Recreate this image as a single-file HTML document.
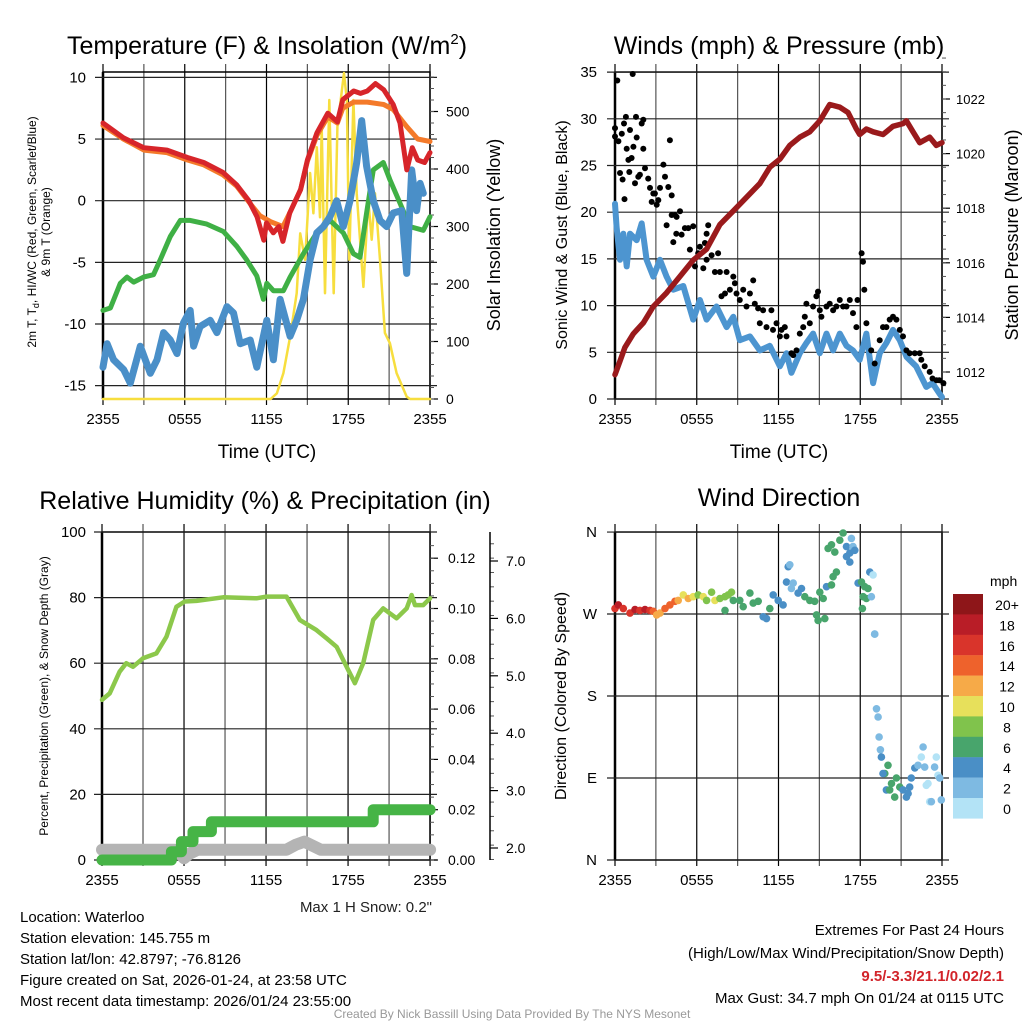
<!DOCTYPE html>
<html><head><meta charset="utf-8">
<style>
html,body{margin:0;padding:0;background:#fff;}
svg{display:block;font-family:"Liberation Sans",Arial,sans-serif;}
</style></head>
<body>
<svg id="chart" width="1024" height="1024" viewBox="0 0 1024 1024" xmlns="http://www.w3.org/2000/svg">
<rect x="0" y="0" width="1024" height="1024" fill="#fff"/>
<text x="267" y="54" font-size="25" text-anchor="middle">Temperature (F) &amp; Insolation (W/m<tspan dy="-10" font-size="15">2</tspan><tspan dy="10">)</tspan></text>
<text x="779" y="54" font-size="25" text-anchor="middle">Winds (mph) &amp; Pressure (mb)</text>
<text x="265" y="509" font-size="25" text-anchor="middle">Relative Humidity (%) &amp; Precipitation (in)</text>
<text x="779" y="506" font-size="25" text-anchor="middle">Wind Direction</text>

<text x="267" y="458" font-size="19" text-anchor="middle">Time (UTC)</text>
<text x="779" y="458" font-size="19" text-anchor="middle">Time (UTC)</text>

<text transform="translate(36,232) rotate(-90)" font-size="12" text-anchor="middle">2m T, T<tspan dy="3" font-size="9">d</tspan><tspan dy="-3">, HI/WC (Red, Green, Scarlet/Blue)</tspan></text>
<text transform="translate(50,232) rotate(-90)" font-size="12" text-anchor="middle">&amp; 9m T (Orange)</text>
<text transform="translate(500,235) rotate(-90)" font-size="18" text-anchor="middle">Solar Insolation (Yellow)</text>
<text transform="translate(567,235) rotate(-90)" font-size="16" text-anchor="middle">Sonic Wind &amp; Gust (Blue, Black)</text>
<text transform="translate(1018,235) rotate(-90)" font-size="18" text-anchor="middle">Station Pressure (Maroon)</text>
<text transform="translate(48,696) rotate(-90)" font-size="12" text-anchor="middle">Percent, Precipitation (Green), &amp; Snow Depth (Gray)</text>
<text transform="translate(566,696) rotate(-90)" font-size="16" text-anchor="middle">Direction (Colored By Speed)</text>

<text x="432" y="912" font-size="15" text-anchor="end" fill="#222">Max 1 H Snow: 0.2"</text>
<g font-size="15" fill="#000">
<text x="20" y="922">Location: Waterloo</text>
<text x="20" y="943">Station elevation: 145.755 m</text>
<text x="20" y="964">Station lat/lon: 42.8797; -76.8126</text>
<text x="20" y="985">Figure created on Sat, 2026-01-24, at 23:58 UTC</text>
<text x="20" y="1006">Most recent data timestamp: 2026/01/24 23:55:00</text>
</g>
<g font-size="15" text-anchor="end">
<text x="1004" y="935">Extremes For Past 24 Hours</text>
<text x="1004" y="958">(High/Low/Max Wind/Precipitation/Snow Depth)</text>
<text x="1004" y="981" font-weight="bold" fill="#d2242a">9.5/-3.3/21.1/0.02/2.1</text>
<text x="1004" y="1003">Max Gust: 34.7 mph On 01/24 at 0115 UTC</text>
</g>
<text x="512" y="1018" font-size="12" fill="#999" text-anchor="middle">Created By Nick Bassill Using Data Provided By The NYS Mesonet</text>
</svg>
<script>
// ===== Panel 1 data (temperature F, insolation W/m2) =====
const xTickLabels = ["2355","0555","1155","1755","2355"];
const tempTicks = [10,5,0,-5,-10,-15];
const solarTicks = [0,100,200,300,400,500];
const redHours = [0,1.5,3.0,4.7,6.2,7.4,8.8,9.8,10.7,11.3,11.8,12.0,12.5,12.9,13.2,13.7,14.5,15.0,15.7,16.5,17.2,17.6,18.4,18.9,19.4,20.0,20.6,21.3,21.8,22.3,22.7,23.1,23.6,24];
const redTemp = [6.3,5.1,4.3,4.1,3.5,3.1,2.3,1.3,0,-1.3,-3.2,-1.8,-2.6,-2.1,-3.3,-1.0,0.9,3.3,5.5,7.1,6.4,8.2,8.9,8.7,8.9,9.5,9.0,7.8,6.3,2.5,4.3,3.3,3.1,3.9];
const orangeHours = [0,1.5,3.0,4.7,6.2,7.4,8.8,9.8,10.7,11.5,12.3,13.2,13.7,14.5,15.0,15.7,16.5,17.2,17.6,18.4,19.4,20.6,21.3,22.3,23.1,24];
const orangeTemp = [6.1,5.0,4.1,3.9,3.3,2.9,2.1,1.2,-0.1,-1.2,-1.7,-2.1,-1.0,0.9,3.2,5.3,6.8,6.3,7.5,8.0,8.0,7.8,7.4,6.0,5.0,4.8];
const greenHours = [0,0.54,1.27,1.76,2.25,2.98,3.71,4.2,4.94,5.67,6.4,7.62,8.84,9.82,10.55,11.29,11.77,12.02,12.51,13.24,13.73,14.71,15.69,16.66,17.64,18.38,18.86,19.35,19.84,20.57,21.06,21.8,22.53,23.51,24];
const greenTemp = [-8.9,-8.7,-6.7,-6.2,-6.6,-6.2,-6.0,-4.8,-2.9,-1.6,-1.6,-1.9,-2.5,-3.7,-4.8,-6.1,-8.0,-6.7,-7.3,-7.3,-6.2,-4.3,-2.6,-1.6,-2.6,-4.3,-4.6,-1.0,2.5,3.1,1.7,-0.2,-2.1,-2.4,-1.3];
const blueHours = [0,0.3,0.78,1.52,2.0,2.74,3.47,3.96,4.45,4.94,5.43,5.91,6.4,6.65,7.13,7.87,8.36,9.09,9.58,10.07,10.8,11.29,12.02,12.51,13.0,13.73,14.22,14.71,15.2,15.69,16.18,16.66,17.15,17.64,18.13,18.62,18.99,19.35,19.84,20.33,20.82,21.31,21.92,22.29,22.66,23.02,23.27,23.51];
const blueTemp = [-13.5,-11.6,-12.9,-13.7,-14.8,-11.8,-14.0,-12.9,-10.7,-11.3,-12.4,-9.9,-8.9,-11.8,-10.2,-9.7,-10.7,-8.6,-9.1,-11.6,-11.3,-13.5,-9.7,-12.9,-8.0,-11.0,-9.7,-8.0,-4.8,-2.6,-2.1,-1.3,0,-2.1,0,3.1,6.5,2.8,0,-1.6,-2.1,-1.0,-0.8,-5.9,2.5,-0.8,1.4,0.6];
const solarHours = [0,12.3,12.76,13.24,13.73,14.22,14.47,14.83,15.2,15.44,15.69,15.93,16.05,16.29,16.61,16.93,17.2,17.69,17.89,18.08,18.38,18.62,19.11,19.47,19.72,19.96,20.33,20.69,21.06,21.55,22.29,22.53,24];
const solarWm2 = [0,0,10,45,108,184,288,242,393,323,438,316,473,184,520,184,473,567,520,242,520,358,195,346,277,358,242,115,97,45,4,0,0];

// ===== Panel 2 data (wind mph, pressure mb) =====
const windTicks = [0,5,10,15,20,25,30,35];
const pressureTicks = [1012,1014,1016,1018,1020,1022];
const windHours = [0,0.12,0.37,0.61,0.86,1.1,1.59,1.96,2.32,2.81,3.3,3.79,4.28,5.01,5.74,6.23,6.72,7.45,8.19,8.68,9.16,9.9,10.63,11.36,12.1,12.59,12.95,13.56,14.05,14.54,15.03,15.52,16.01,16.5,16.99,17.47,17.96,18.45,18.94,19.43,19.92,20.4,20.9,21.4,22.1,22.85,23.3,23.8,24];
const windMph = [20.9,18.4,14.9,17.7,14.2,17.7,17.0,18.8,14.9,13.1,14.9,13.1,11.7,12.1,8.5,10.6,8.5,9.9,7.7,8.8,6.3,6.7,5.2,5.7,3.5,4.9,2.8,4.9,6.0,7.0,4.9,7.0,5.2,7.0,5.7,5.2,4.2,7.0,1.7,4.9,6.0,7.4,6.3,4.5,3.5,1.3,1.7,0.6,0.2];
const gustHours = [0,0.17,1.3,0,0.25,0.5,0.66,0.8,1.1,0.86,0.98,1.22,1.35,1.59,1.54,1.96,2.08,2.08,0.37,0.56,1.05,0.7,1.47,1.71,1.83,2.2,2.44,2.57,2.69,2.81,2.93,3.06,3.18,3.3,3.55,3.67,3.91,4.03,4.16,3.79,4.16,4.4,4.52,4.77,4.5,4.89,4.28,5.13,5.38,5.5,5.74,5.87,6.11,6.23,6.6,6.72,6.84,6.48,6.72,7.09,7.33,7.57,7.7,7.82,8.19,8.07,8.43,8.68,8.8,8.92,9.16,9.41,9.65,9.9,10.14,10.26,10.5,10.63,10.87,11.12,11.48,11.6,11.85,12.1,12.22,12.46,12.59,12.95,13.08,13.32,13.56,13.81,13.93,14.05,14.3,14.54,14.78,14.9,15.03,15.15,15.52,15.76,16.01,16.25,16.5,16.74,16.99,17.23,17.47,17.72,17.8,18.2,18.1,18.3,18.45,18.8,19.06,19.43,19.67,19.92,20.16,20.4,20.65,20.9,21.14,21.39,21.63,22.0,22.36,22.48,22.73,23.1,23.3,23.6,23.8,24.1];
const gustMph = [29.0,34.1,34.8,28.1,27.6,28.4,29.5,30.2,28.8,26.8,25.6,25.8,27.0,28.0,30.2,29.5,29.9,26.8,24.2,23.5,24.3,21.4,23.1,23.8,24.0,24.7,23.6,22.6,21.1,22.0,22.0,20.8,21.3,22.6,25.1,23.8,22.7,27.7,21.8,18.6,19.7,19.7,19.5,20.1,17.7,17.6,16.8,18.3,18.3,16.0,18.5,14.2,15.6,16.3,16.7,17.7,18.6,14.0,14.9,15.4,13.6,15.6,13.6,11.0,13.6,11.3,11.7,13.1,12.4,11.3,10.6,11.7,9.9,11.3,12.7,10.2,9.7,8.1,9.5,7.7,9.5,7.4,8.1,6.7,7.4,7.7,6.7,4.9,4.7,5.2,7.0,7.7,8.8,10.2,8.1,9.9,11.0,11.5,9.5,8.8,9.9,10.2,9.5,9.9,10.6,9.9,9.9,10.6,9.2,7.7,10.6,14.7,15.6,11.7,8.1,5.2,3.8,6.3,7.7,7.7,8.5,8.8,8.5,7.4,6.7,5.2,4.9,4.9,4.9,4.2,3.5,2.9,2.2,2.0,2.0,1.7];
const pressureHours = [0,0.37,0.73,1.34,2.08,2.81,3.79,4.77,5.74,6.72,7.7,8.68,9.65,10.63,11.36,12.1,12.83,13.56,14.3,15.03,15.76,16.5,17.11,17.72,17.96,18.45,18.94,19.67,20.4,21.14,21.39,21.87,22.36,23.1,23.58,24];
const pressureMb = [1011.9,1012.4,1012.9,1013.4,1013.8,1014.4,1014.9,1015.5,1016.1,1016.5,1017.4,1017.9,1018.4,1018.9,1019.5,1019.8,1020.3,1020.6,1020.8,1021.2,1021.8,1021.7,1021.5,1020.9,1020.7,1020.9,1020.8,1020.7,1021.0,1021.1,1021.2,1020.8,1020.4,1020.6,1020.3,1020.4];

// ===== Panel 3 data (RH %, precip in, snow depth in) =====
const rhTicks = [0,20,40,60,80,100];
const precipTicks = [0.00,0.02,0.04,0.06,0.08,0.10,0.12];
const snowTicks = [2.0,3.0,4.0,5.0,6.0,7.0];
const rhHours = [0,0.56,1.29,1.78,2.27,3.0,3.98,4.72,5.44,6.05,6.91,8.86,11.3,12.03,13.5,14.47,15.69,16.42,17.16,17.89,18.5,19.11,19.84,20.57,21.55,22.29,22.65,22.9,23.5,24];
const rhPct = [48.8,50.8,57.4,60,58.9,61.5,63.0,68.1,77.2,78.8,79.0,80.1,79.8,80.3,80.3,73.2,70.1,67.6,65,58.9,53.9,60,73.2,76.7,73.7,76.7,80.8,77.7,77.7,79.8];
const precipHours = [0,5.08,5.08,5.81,5.81,6.66,6.66,8.0,8.0,19.84,19.84,24];
const precipIn = [0,0,0.0033,0.0033,0.0073,0.0073,0.0113,0.0113,0.0152,0.0152,0.020,0.020];
const snowHours = [0,5.3,5.7,6.0,6.4,7.0,13.5,14.2,14.8,15.4,16.0,24];
const snowIn = [1.97,1.97,1.9,1.82,1.9,1.97,1.97,2.06,2.11,2.04,1.97,1.97];

// ===== Panel 4 data (wind direction deg, speed mph) =====
const dirLabels = ["N","E","S","W","N"];
const dirTicks = [0,90,180,270,360];
const speedBins = ["0","2","4","6","8","10","12","14","16","18","20+"];
const dirHours = [0,0.24,0.61,1.1,1.47,1.83,2.2,2.57,2.81,3.06,3.3,3.67,4.03,4.4,4.64,5.01,5.38,5.74,6.11,6.48,6.72,7.09,7.33,7.7,8.07,8.31,8.55,8.68,8.07,9.16,9.41,9.9,10.14,10.51,10.88,11.12,11.36,11.61,11.98,12.34,12.71,12.83,12.59,12.95,13.08,13.44,13.69,13.93,14.3,14.66,15.03,15.28,14.79,14.91,15.4,15.52,15.89,16.01,16.25,15.64,15.89,16.13,16.5,16.74,16.99,17.23,17.47,17.6,17.35,16.99,17.23,17.84,18.09,18.33,18.57,18.21,18.45,18.16,18.7,18.94,18.82,19.06,19.06,19.19,19.31,19.38,19.48,19.55,19.8,20.04,19.67,19.92,20.16,20.29,20.53,20.65,20.9,21.14,21.39,21.51,21.63,21.75,22.0,22.24,22.48,22.61,22.73,22.85,22.97,23.1,23.22,23.46,23.58,23.71,23.83,23.95,23.83];
const dirDeg = [276,280,276,271,275,274,275,274,273,269,271,276,280,284,285,291,287,289,291,289,285,294,285,287,289,291,294,285,274,285,278,293,282,284,267,265,276,291,285,280,322,324,305,298,304,293,298,289,285,284,294,287,269,263,265,300,302,311,316,342,346,338,351,359,344,337,344,340,353,333,327,304,305,300,298,289,287,276,316,313,289,248,248,166,157,135,121,113,95,104,95,77,77,84,69,90,80,77,69,73,80,90,101,104,113,124,102,82,84,64,64,102,113,93,90,66,90,56];
const dirSpeed = [17,18,17,17,18,17,18,17,15,13,13,15,14,14,13,11,12,10,9,10,9,8,10,9,8,8,8,7,7,6,6,6,6,6,4,4,6,4,5,4,4,3,4,3,3,4,4,6,6,6,6,6,6,6,6,5,6,6,6,6,6,6,6,6,5,4,3,4,2,4,4,4,6,6,6,6,6,6,4,1,2,2,2,2,2,2,2,4,6,6,4,4,6,6,6,6,6,4,4,4,4,4,4,2,1,2,2,1,1,1,2,2,1,1,1,2,2];
const speedColors = ["#b3e3f6","#7ebae2","#4a8fc6","#48a56c","#80c34c","#e7e05b","#f6aa48","#ee622c","#d9342b","#b91d27","#8e1619"];

const NS = "http://www.w3.org/2000/svg";
const svg = document.getElementById("chart");
function mk(tag, attrs, parent){
  const e = document.createElementNS(NS, tag);
  for (const k in attrs) e.setAttribute(k, attrs[k]);
  (parent || svg).appendChild(e);
  return e;
}
function pathD(xs, ys, fx, fy){
  let d = "";
  for (let i = 0; i < xs.length; i++) d += (i ? "L" : "M") + fx(xs[i]).toFixed(1) + " " + fy(ys[i]).toFixed(1);
  return d;
}

const x1 = h => 103 + h * 13.625;
const yT = v => 200.7 - v * 12.33;
const yS = w => 399 - w * 0.575;
const x2 = h => 615 + h * 13.625;
const yW = v => 399 - v * 9.34;
const yP = p => 372 - (p - 1012) * 27.3;
const x3 = h => 102 + h * 13.67;
const yR = r => 860 - r * 3.28;
const yPr = i => 860 - i * 2515;
const ySn = s => 848 - (s - 2) * 57.4;
const yD = d => 860 - d * 0.911;

function frame(name, L, R, T, B, xf){
  const g = mk("g", {});
  
  
  for (let h = 0; h <= 24; h += 3){
    const ln = mk("line", {x1: xf(h), x2: xf(h), y1: T - 8, y2: B + 6, stroke: (h % 6 === 0) ? "#000" : "#555", "stroke-width": 1.2}, g);
    
    
  }
  for (let i = 0; i < 5; i++){
    const t = mk("text", {x: xf(i * 6), y: B + 25, "font-size": 15, "text-anchor": "middle"}, g);
    t.textContent = xTickLabels[i];
    
    
  }
  const bx = mk("rect", {x: L, y: T, width: R - L, height: B - T, fill: "none", stroke: "#000", "stroke-width": 1.5}, g);
  
  
  const lax = mk("line", {x1: L, x2: L, y1: T, y2: B, stroke: "#000", "stroke-width": 2.5}, g);
  
  
  return g;
}
function hgrid(g, vals, fy, L, R, labelX, fmt, name){
  vals.forEach(v => {
    const y = fy(v);
    const ln = mk("line", {x1: L - 8, x2: R + 7, y1: y, y2: y, stroke: "#222", "stroke-width": 1.2}, g);
    
    
    const t = mk("text", {x: labelX, y: y + 5, "font-size": 15, "text-anchor": "end"}, g);
    t.textContent = fmt(v);
    
    
  });
}
function rightAxis(g, vals, minors, fy, X, fmt, name, lx, size){
  vals.forEach(v => {
    const y = fy(v);
    const tk = mk("line", {x1: X, x2: X + 8, y1: y, y2: y, stroke: "#000", "stroke-width": 1.2}, g);
    
    
    const t = mk("text", {x: lx, y: y + 5, "font-size": size || 14}, g);
    t.textContent = fmt(v);
    
    
  });
  minors.forEach(v => {
    const y = fy(v);
    const tk = mk("line", {x1: X, x2: X + 4, y1: y, y2: y, stroke: "#555", "stroke-width": 1}, g);
    
    
  });
}
function line(xs, ys, fx, fy, color, w, name, cap){
  const p = mk("path", {d: pathD(xs, ys, fx, fy), fill: "none", stroke: color, "stroke-width": w, "stroke-linejoin": "round", "stroke-linecap": cap || "round"});
  
  
  return p;
}

// ---- Panel 1 ----
const g1 = frame("temperature-panel", 103, 430, 72, 399, x1);
hgrid(g1, tempTicks, yT, 103, 430, 86, v => String(v), "temperature");
const m1 = [];
for (let w = 0; w <= 560; w += 20) m1.push(w);
rightAxis(g1, solarTicks, m1, yS, 430, v => String(v), "insolation", 446);
line(solarHours, solarWm2, x1, yS, "#f7de3e", 2.5, "insolation-line");
line(greenHours, greenTemp, x1, yT, "#3fb045", 5, "dewpoint-line");
line(blueHours, blueTemp, x1, yT, "#4a8fc8", 7, "windchill-line");
line(orangeHours, orangeTemp, x1, yT, "#f47a2a", 5, "temp-9m-line");
line(redHours, redTemp, x1, yT, "#d7252a", 5, "temp-2m-line");

// ---- Panel 2 ----
const g2 = frame("winds-panel", 615, 942, 72, 399, x2);
hgrid(g2, windTicks, yW, 615, 942, 597, v => String(v), "wind");
const m2 = [];
for (let p = 1011.5; p <= 1023.5; p += 0.5) m2.push(p);
rightAxis(g2, pressureTicks, m2, yP, 942, v => String(v), "pressure", 956, 13);
line(windHours, windMph, x2, yW, "#4d95d0", 6, "sonic-wind-line");
gustHours.forEach((h, i) => {
  const c = mk("circle", {cx: x2(h).toFixed(1), cy: yW(gustMph[i]).toFixed(1), r: 3, fill: "#000"});
  
  
});
line(pressureHours, pressureMb, x2, yP, "#9a1a1c", 5.5, "pressure-line");

// ---- Panel 3 ----
const g3 = frame("humidity-panel", 102, 430, 532, 860, x3);
hgrid(g3, rhTicks, yR, 102, 430, 86, v => String(v), "humidity");
const m3 = [];
for (let i = 0; i <= 0.13; i += 0.005) m3.push(i);
rightAxis(g3, precipTicks, m3, yPr, 430, v => v.toFixed(2), "precip", 448);
const sax = mk("line", {x1: 490, x2: 490, y1: 532, y2: 860, stroke: "#000", "stroke-width": 1.5});


const m3b = [];
for (let s = 1.8; s <= 7.4; s += 0.25) m3b.push(s);
rightAxis(g3, snowTicks, m3b, ySn, 490, v => v.toFixed(1), "snow", 506);
line(snowHours, snowIn, x3, ySn, "#b4b4b4", 12, "snow-depth-line");
line(precipHours, precipIn, x3, yPr, "#46b446", 11, "precip-line");
line(rhHours, rhPct, x3, yR, "#8cc84b", 4.5, "humidity-line");

// ---- Panel 4 ----
const g4 = frame("direction-panel", 615, 942, 532, 860, x2);
hgrid(g4, dirTicks, yD, 615, 942, 597, v => dirLabels[dirTicks.indexOf(v)], "direction");
dirHours.forEach((h, i) => {
  const idx = Math.min(10, Math.floor(dirSpeed[i] / 2));
  const c = mk("circle", {cx: x2(h).toFixed(1), cy: yD(dirDeg[i]).toFixed(1), r: 3.8, fill: speedColors[idx]});
  
  
});
const leg = mk("g", {});


const lt = mk("text", {x: 990, y: 586, "font-size": 14}, leg);
lt.textContent = "mph";


for (let k = 0; k < 11; k++){
  const bin = 10 - k;
  const y = 594 + k * 20.4;
  const r = mk("rect", {x: 953, y: y, width: 30, height: 20.6, fill: speedColors[bin]}, leg);
  
  
  const t = mk("text", {x: 1007, y: y + 16, "font-size": 14, "text-anchor": "middle"}, leg);
  t.textContent = speedBins[bin];
  
  
}
</script>
</body></html>
